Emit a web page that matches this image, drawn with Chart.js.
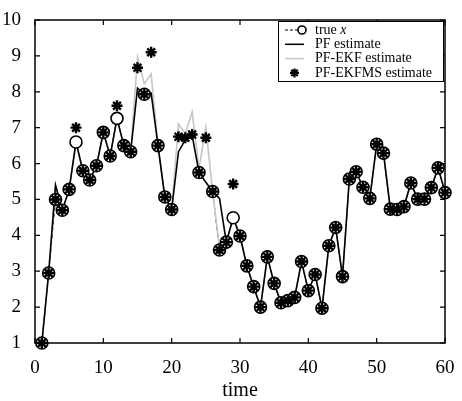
<!DOCTYPE html>
<html>
<head>
<meta charset="utf-8">
<script src="https://cdn.jsdelivr.net/npm/chart.js@4.4.0/dist/chart.umd.min.js"></script>
<style>
  html, body { margin: 0; padding: 0; background: #fff; }
  #wrap { width: 462px; height: 401px; }
</style>
</head>
<body>
<div id="wrap"><canvas id="c" width="462" height="401"></canvas></div>
<script>
// time steps
var times = [1, 2, 3, 4, 5, 6, 7, 8, 9, 10, 11, 12, 13, 14, 15, 16, 17, 18, 19, 20,
  21, 22, 23, 24, 25, 26, 27, 28, 29, 30, 31, 32, 33, 34, 35, 36, 37, 38, 39, 40,
  41, 42, 43, 44, 45, 46, 47, 48, 49, 50, 51, 52, 53, 54, 55, 56, 57, 58, 59, 60];

var trueX = [1.0, 2.95, 5.0, 4.7, 5.28, 6.6, 5.8, 5.54, 5.94, 6.87, 6.21, 7.26, 6.5, 6.33, null, 7.93, null, 6.5, 5.07, 4.72,
  null, null, null, 5.75, null, 5.22, 3.59, 3.81, 4.49, 3.98, 3.15, 2.57, 2.0, 3.4, 2.66, 2.12, 2.18, 2.27, 3.27, 2.46,
  2.91, 1.97, 3.71, 4.22, 2.85, 5.57, 5.77, 5.34, 5.03, 6.54, 6.29, 4.73, 4.72, 4.8, 5.46, 5.01, 5.01, 5.33, 5.88, 5.19];

var pfEst = [1.0, 2.95, 5.4, 4.7, 5.28, 6.6, 5.8, 5.54, 5.94, 6.87, 6.21, 7.26, 6.5, 6.33, 8.1, 7.93, 7.96, 6.5, 5.07, 4.72,
  6.33, 6.66, 6.78, 5.75, 5.48, 5.22, 5.03, 3.81, 4.49, 3.98, 3.15, 2.57, 2.0, 3.4, 2.66, 2.12, 2.18, 2.27, 3.27, 2.46,
  2.91, 1.97, 3.71, 4.22, 2.85, 5.57, 5.77, 5.34, 5.03, 6.54, 6.29, 4.73, 4.72, 4.8, 5.46, 5.01, 5.01, 5.33, 5.88, 5.19];

var ekfEst = [1.0, 2.95, 5.4, 4.7, 5.28, 6.6, 5.8, 5.54, 5.94, 6.87, 6.21, 7.26, 6.5, 6.33, 8.97, 8.22, 8.5, 6.5, 5.07, 4.72,
  7.1, 6.83, 7.44, 5.85, 7.01, 5.22, 3.65, 3.81, 4.49, 3.98, 3.15, 2.57, 2.0, 3.4, 2.66, 2.12, 2.18, 2.27, 3.27, 2.46,
  2.91, 1.97, 3.71, 4.22, 2.85, 5.57, 5.77, 5.34, 5.03, 6.54, 6.29, 4.73, 4.72, 4.8, 5.46, 5.01, 5.01, 5.33, 5.92, 5.19];

var ekfmsEst = [1.0, 2.95, 5.0, 4.7, 5.28, 7.0, 5.8, 5.54, 5.94, 6.87, 6.21, 7.61, 6.5, 6.33, 8.67, 7.93, 9.1, 6.5, 5.07, 4.72,
  6.75, 6.72, 6.81, 5.75, 6.72, 5.22, 3.59, 3.81, 5.43, 3.98, 3.15, 2.57, 2.0, 3.4, 2.66, 2.12, 2.18, 2.27, 3.27, 2.46,
  2.91, 1.97, 3.71, 4.22, 2.85, 5.57, 5.77, 5.34, 5.03, 6.54, 6.29, 4.73, 4.72, 4.8, 5.46, 5.01, 5.01, 5.33, 5.88, 5.19];

var xTicks = [0, 10, 20, 30, 40, 50, 60];
var yTicks = [1, 2, 3, 4, 5, 6, 7, 8, 9, 10];
var legendLabels = ['true ', 'PF estimate', 'PF-EKF estimate', 'PF-EKFMS estimate'];

var serif = '"Liberation Serif", "DejaVu Serif", serif';
var grey = '#c6c6c6';

function pts(ys) {
  return times.map(function (t, i) { return { x: t, y: ys[i] }; });
}

// asterisk like the one used for the PF-EKFMS marks
function drawStar(ctx, x, y, r) {
  ctx.beginPath();
  for (var k = 0; k < 4; k++) {
    var ang = k * Math.PI / 4;
    ctx.moveTo(x - r * Math.cos(ang), y - r * Math.sin(ang));
    ctx.lineTo(x + r * Math.cos(ang), y + r * Math.sin(ang));
  }
  ctx.stroke();
}

// frame with inward ticks on all four sides
var framePlugin = {
  id: 'frame',
  afterDatasetsDraw: function (chart) {
    var ctx = chart.ctx, a = chart.chartArea;
    var xs = chart.scales.x, ys = chart.scales.y;
    var len = 5;
    ctx.save();
    ctx.strokeStyle = '#000';
    ctx.lineWidth = 1.5;
    ctx.strokeRect(a.left, a.top, a.right - a.left, a.bottom - a.top);
    ctx.lineWidth = 1.2;
    ctx.beginPath();
    xTicks.forEach(function (v) {
      var px = xs.getPixelForValue(v);
      ctx.moveTo(px, a.bottom); ctx.lineTo(px, a.bottom - len);
      ctx.moveTo(px, a.top); ctx.lineTo(px, a.top + len);
    });
    yTicks.forEach(function (v) {
      var py = ys.getPixelForValue(v);
      ctx.moveTo(a.left, py); ctx.lineTo(a.left + len, py);
      ctx.moveTo(a.right, py); ctx.lineTo(a.right - len, py);
    });
    ctx.stroke();
    ctx.restore();
  }
};

// boxed legend in the top right corner
var legendPlugin = {
  id: 'boxLegend',
  afterDraw: function (chart) {
    var ctx = chart.ctx;
    var bx = 278, by = 21, bw = 165, bh = 60;
    ctx.save();
    ctx.fillStyle = '#fff';
    ctx.fillRect(bx, by, bw, bh);
    ctx.strokeStyle = '#000';
    ctx.lineWidth = 1;
    ctx.strokeRect(bx + 0.5, by + 0.5, bw, bh);
    var rowH = 14.3;
    var y0 = by + 9;
    var sx0 = bx + 7, sx1 = bx + 26, sc = (sx0 + sx1) / 2;
    var font = '14px ' + serif;
    ctx.font = font;
    ctx.fillStyle = '#000';
    ctx.textBaseline = 'middle';
    for (var i = 0; i < 4; i++) {
      var y = y0 + i * rowH;
      ctx.beginPath();
      if (i === 0) {
        ctx.setLineDash([3, 2]);
        ctx.strokeStyle = '#000'; ctx.lineWidth = 1.2;
        ctx.moveTo(sx0, y); ctx.lineTo(sx1, y); ctx.stroke();
        ctx.setLineDash([]);
        ctx.beginPath();
        ctx.fillStyle = '#fff';
        ctx.arc(sx1 - 2, y, 4, 0, Math.PI * 2);
        ctx.fill(); ctx.lineWidth = 1.6; ctx.stroke();
        ctx.fillStyle = '#000';
      } else if (i === 1) {
        ctx.strokeStyle = '#000'; ctx.lineWidth = 1.5;
        ctx.moveTo(sx0, y); ctx.lineTo(sx1, y); ctx.stroke();
      } else if (i === 2) {
        ctx.strokeStyle = grey; ctx.lineWidth = 1.5;
        ctx.moveTo(sx0, y); ctx.lineTo(sx1, y); ctx.stroke();
      } else {
        ctx.strokeStyle = '#000'; ctx.lineWidth = 2.2;
        drawStar(ctx, sc, y, 4.5);
      }
      ctx.fillText(legendLabels[i], bx + 37, y);
      if (i === 0) {
        var w = ctx.measureText(legendLabels[i]).width;
        ctx.font = 'italic 14px ' + serif;
        ctx.fillText('x', bx + 37 + w, y);
        ctx.font = font;
      }
    }
    ctx.restore();
  }
};

new Chart(document.getElementById('c'), {
  type: 'line',
  data: {
    datasets: [
      {
        label: 'true x line',
        data: pts(trueX),
        borderColor: '#000',
        borderWidth: 1,
        borderDash: [4, 3],
        pointRadius: 0,
        spanGaps: false,
        clip: false,
        order: 6
      },
      {
        label: 'PF-EKF estimate',
        data: pts(ekfEst),
        borderColor: grey,
        borderWidth: 1.6,
        pointRadius: 0,
        clip: false,
        order: 5
      },
      {
        label: 'PF estimate',
        data: pts(pfEst),
        borderColor: '#000',
        borderWidth: 1.6,
        pointRadius: 0,
        clip: false,
        order: 4
      },
      {
        label: 'true x',
        data: pts(trueX),
        showLine: false,
        pointStyle: 'circle',
        pointRadius: 6,
        pointBorderWidth: 1.6,
        pointBorderColor: '#000',
        pointBackgroundColor: '#fff',
        clip: false,
        order: 3
      },
      {
        label: 'PF-EKFMS estimate',
        data: pts(ekfmsEst),
        showLine: false,
        pointStyle: 'star',
        pointRadius: 5.5,
        pointBorderWidth: 2.4,
        pointBorderColor: '#000',
        pointBackgroundColor: '#000',
        clip: false,
        order: 1
      }
    ]
  },
  options: {
    responsive: false,
    animation: false,
    events: [],
    layout: { padding: { top: 20, right: 17, left: 0, bottom: 0 } },
    plugins: { legend: { display: false }, tooltip: { enabled: false } },
    scales: {
      x: {
        type: 'linear',
        min: 0, max: 60,
        afterFit: function (s) { s.height = 58; },
        afterBuildTicks: function (s) { s.ticks = xTicks.map(function (v) { return { value: v }; }); },
        grid: { display: false },
        border: { display: false },
        ticks: { color: '#000', font: { family: serif, size: 19 }, padding: 6, maxRotation: 0 },
        title: {
          display: true, text: 'time', color: '#000',
          font: { family: serif, size: 20, lineHeight: 1 },
          padding: { top: 0, bottom: 0 }
        }
      },
      y: {
        min: 1, max: 10,
        afterFit: function (s) { s.width = 35; },
        afterBuildTicks: function (s) { s.ticks = yTicks.map(function (v) { return { value: v }; }); },
        grid: { display: false },
        border: { display: false },
        ticks: { color: '#000', font: { family: serif, size: 19 }, padding: 6 }
      }
    }
  },
  plugins: [framePlugin, legendPlugin]
});
</script>
</body>
</html>
